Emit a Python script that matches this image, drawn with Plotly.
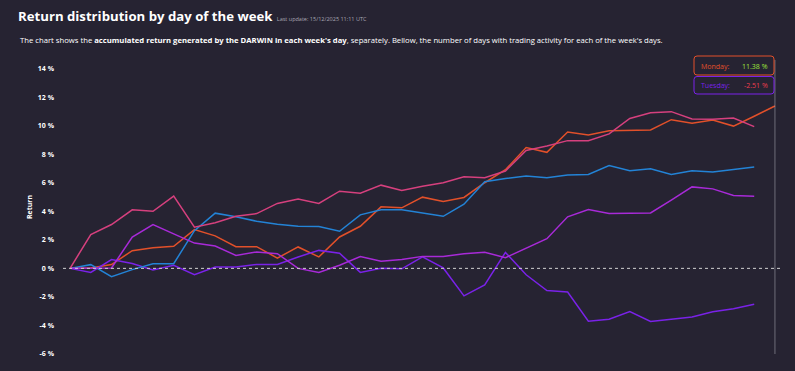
import plotly.graph_objects as go

# ---------------- data ----------------
days = ["Monday", "Tuesday", "Wednesday", "Thursday", "Friday"]
monday = [0, 0.02, 0.27, 1.24, 1.45, 1.55, 2.72, 2.28, 1.52, 1.52, 0.72, 1.50, 0.80, 2.20, 2.95,
          4.31, 4.24, 4.99, 4.68, 4.97, 6.00, 6.91, 8.47, 8.13, 9.56, 9.35, 9.65, 9.69, 9.70,
          10.42, 10.17, 10.40, 9.97, 10.66, 11.38]
tuesday = [0, -0.29, 0.62, 0.34, -0.12, 0.21, -0.44, 0.09, 0.09, 0.27, 0.27, 0.80, 1.26, 1.06,
           -0.28, 0.0, -0.03, 0.80, 0.03, -1.93, -1.16, 1.12, -0.45, -1.55, -1.66, -3.70, -3.56,
           -3.02, -3.72, -3.56, -3.40, -3.04, -2.83, -2.51]
wednesday = [0, 0.26, -0.58, -0.09, 0.33, 0.33, 2.64, 3.87, 3.61, 3.30, 3.09, 2.95, 2.94, 2.60,
             3.75, 4.10, 4.10, 3.87, 3.65, 4.50, 6.07, 6.30, 6.47, 6.35, 6.54, 6.58, 7.21, 6.84,
             6.98, 6.58, 6.84, 6.75, 6.93, 7.10]
thursday = [0, 0.0, 0.03, 2.19, 3.07, 2.42, 1.77, 1.56, 0.91, 1.15, 1.03, 0.0, -0.28, 0.22, 0.83,
            0.50, 0.62, 0.84, 0.84, 1.03, 1.13, 0.75, 1.42, 2.08, 3.61, 4.12, 3.84, 3.84, 3.88,
            4.78, 5.71, 5.57, 5.10, 5.06]
friday = [0, 2.37, 3.07, 4.10, 4.00, 5.06, 2.88, 3.20, 3.65, 3.84, 4.55, 4.86, 4.55, 5.41, 5.27,
          5.83, 5.46, 5.76, 6.00, 6.42, 6.35, 6.82, 8.26, 8.57, 8.95, 8.95, 9.42, 10.50, 10.91,
          10.98, 10.47, 10.45, 10.54, 9.93]
series = [monday, tuesday, wednesday, thursday, friday]
colors = ["#e2502a", "#7a22e8", "#2383d6", "#a82ad8", "#d6407e"]
ytick_vals = [-6, -4, -2, 0, 2, 4, 6, 8, 10, 12, 14]
ytick_text = [f"{v} %" for v in ytick_vals]

BG = "#262332"
W, H = 795, 371
# plot area in screen pixels
SX0, SX1, SY0, SY1 = 63, 782, 60, 354
L, R, T, B = SX0, W - SX1, SY0, H - SY1
PW, PH = SX1 - SX0, SY1 - SY0


def px(xs):
    return (xs - SX0) / PW


def py(ys):
    return (SY1 - ys) / PH


def rrect(x0, y0, x1, y1, r=3):
    pts = [
        f"M {px(x0 + r)} {py(y0)}", f"L {px(x1 - r)} {py(y0)}",
        f"Q {px(x1)} {py(y0)} {px(x1)} {py(y0 + r)}", f"L {px(x1)} {py(y1 - r)}",
        f"Q {px(x1)} {py(y1)} {px(x1 - r)} {py(y1)}", f"L {px(x0 + r)} {py(y1)}",
        f"Q {px(x0)} {py(y1)} {px(x0)} {py(y1 - r)}", f"L {px(x0)} {py(y0 + r)}",
        f"Q {px(x0)} {py(y0)} {px(x0 + r)} {py(y0)}", "Z",
    ]
    return " ".join(pts)


fig = go.Figure()
for name, vals, col in zip(days, series, colors):
    fig.add_trace(go.Scatter(x=list(range(len(vals))), y=vals, mode="lines", name=name,
                             line=dict(color=col, width=1.5), hoverinfo="skip"))

xmax = len(monday) - 1
shapes = [
    dict(type="line", xref="paper", yref="y", x0=0, x1=1, y0=0, y1=0,
         line=dict(color="#d0d0d0", width=1, dash="dot")),
    dict(type="line", xref="x", yref="paper", x0=xmax, x1=xmax, y0=0, y1=1,
         line=dict(color="rgba(170,170,180,0.55)", width=1)),
    dict(type="path", xref="paper", yref="paper", path=rrect(694, 56, 774, 75),
         line=dict(color=colors[0], width=1), fillcolor=BG),
    dict(type="path", xref="paper", yref="paper", path=rrect(694, 76.5, 774, 94),
         line=dict(color=colors[1], width=1), fillcolor=BG),
]

font = "Open Sans, Noto Sans, sans-serif"
annotations = [
    dict(xref="paper", yref="paper", x=px(18), y=py(40.5), xanchor="left", yanchor="middle",
         showarrow=False, align="left",
         text="The chart shows the <b>accumulated return generated by the DARWIN in each week's day</b>, "
              "separately. Bellow, the number of days with trading activity for each of the week's days.",
         font=dict(family=font, size=7.7, color="#ffffff")),
    dict(xref="paper", yref="paper", x=px(699), y=py(66), xanchor="left", yanchor="middle",
         showarrow=False, text="Monday:", font=dict(family=font, size=7, color=colors[0])),
    dict(xref="paper", yref="paper", x=px(770), y=py(66), xanchor="right", yanchor="middle",
         showarrow=False, text=f"{monday[-1]:.2f} %", font=dict(family=font, size=7, color="#9fe33a")),
    dict(xref="paper", yref="paper", x=px(699), y=py(85), xanchor="left", yanchor="middle",
         showarrow=False, text="Tuesday:", font=dict(family=font, size=7, color=colors[1])),
    dict(xref="paper", yref="paper", x=px(770), y=py(85), xanchor="right", yanchor="middle",
         showarrow=False, text=f"{tuesday[-1]:.2f} %", font=dict(family=font, size=7, color="#ee3d4e")),
]

fig.update_layout(
    width=W, height=H,
    margin=dict(l=L, r=R, t=T, b=B),
    paper_bgcolor=BG, plot_bgcolor=BG,
    showlegend=False,
    title=dict(
        text="<b>Return distribution by day of the week</b>"
             "<span style='font-size:5.5px;color:#a9a8b4'>   Last update: 15/12/2025 11:11 UTC</span>",
        xref="container", yref="container", x=18 / W, y=1 - 16.5 / H,
        xanchor="left", yanchor="middle",
        font=dict(family=font, size=13.2, color="#ffffff")),
    xaxis=dict(range=[-0.34, xmax + 0.34], showgrid=False, zeroline=False,
               showticklabels=False, showline=False, ticks=""),
    yaxis=dict(range=[-6, 14.6], showgrid=False, zeroline=False, showline=False,
               tickvals=ytick_vals, ticktext=ytick_text, ticks="", ticklabelstandoff=8,
               tickfont=dict(family=font, size=7, color="#ffffff", weight="bold"),
               title=dict(text="Return", standoff=4,
                          font=dict(family=font, size=7, color="#ffffff", weight="bold"))),
    shapes=shapes,
    annotations=annotations,
)

fig.write_html(
    "out.html",
    config={"displayModeBar": False},
    post_script="document.body.style.margin='0';document.body.style.overflow='hidden';"
                f"document.body.style.background='{BG}';",
)
